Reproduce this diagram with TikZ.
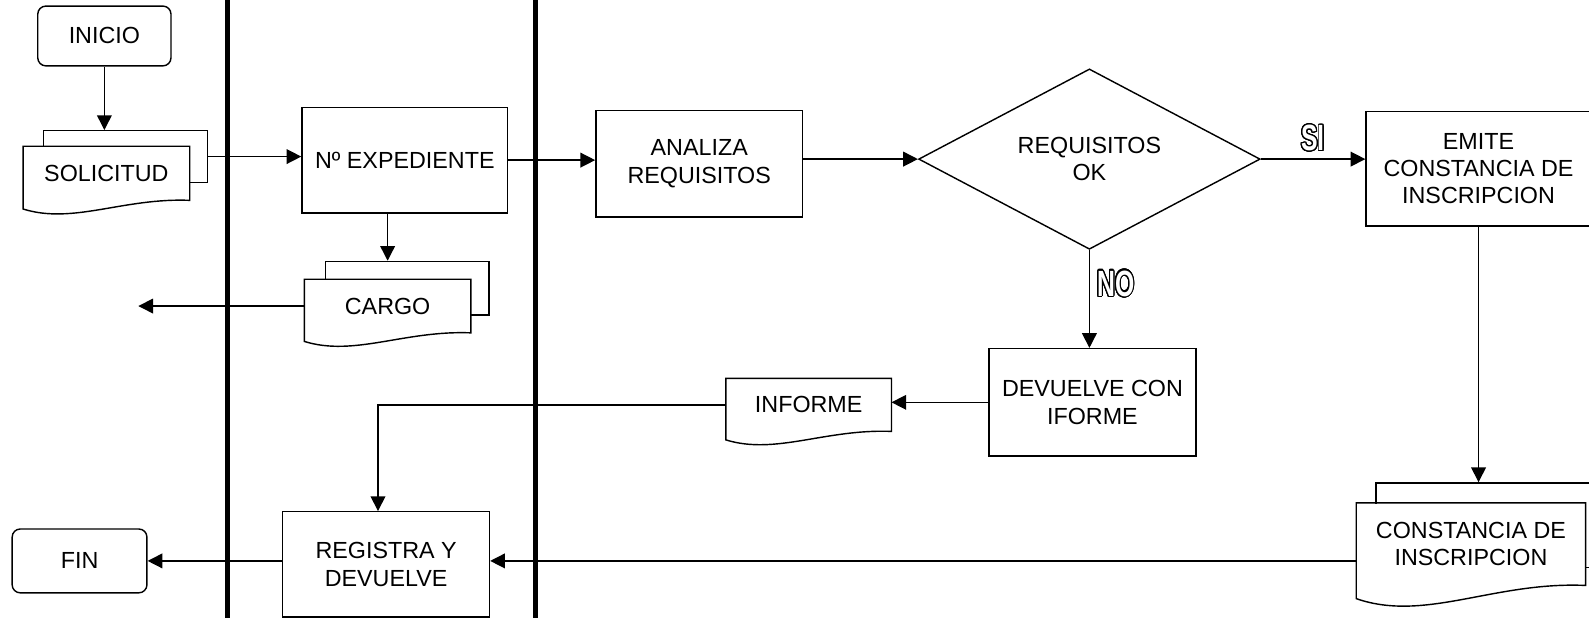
\documentclass[tikz,border=0pt]{standalone}
\usepackage{fontspec}
\setmainfont{Liberation Sans}
\usepackage{graphicx}
\usepackage[copies]{contour}
\usepackage{tikz}
\usetikzlibrary{arrows.meta,shapes.geometric,calc}
\contourlength{1.3pt}
\contournumber{32}
\tikzset{
  box/.style    = {draw, line width=1.4pt, align=center, inner sep=0pt,
                   font=\fontsize{23}{27}\selectfont},
  term/.style   = {box, rounded corners=8pt},
  sheet/.style  = {box, fill=white},
  doc/.style    = {box, draw=none, fill=white},
  test/.style   = {box, diamond, aspect=1.9},
  lane/.style   = {line width=4.8pt},
  line/.style   = {line width=1.4pt},
  flow/.style   = {line, -{Triangle[length=14.5pt, width=14.5pt]}},
  answer/.style = {font=\fontsize{36}{36}\selectfont\bfseries, inner sep=0pt},
}
% wavy document outline round a doc node
\newcommand\docedge[1]{%
  \draw[line] let \p1 = ($(#1.north east)-(#1.south west)$) in
    (#1.south east) .. controls ($(#1.south east)+(-0.4*\x1,0.05*\y1)$)
      and ($(#1.south west)+(0.3*\x1,-0.45*\y1)$) .. ($(#1.south west)+(0,-0.16*\y1)$)
    -- (#1.north west) -- (#1.north east) -- cycle;}
\newcommand\answer[1]{\scalebox{0.68}[1]{\textcolor{white}{\contour{black}{#1}}}}

\begin{document}
\begin{tikzpicture}[x=1pt, y=1pt]
  \useasboundingbox (0,0) rectangle (1568,-610);
  \clip (0,0) rectangle (1568,-610);
  % lanes
  \draw[lane] (224.5,0) -- (224.5,-610);
  \draw[lane] (528,0) -- (528,-610);
  % steps
  \node[term, minimum width=131.5pt, minimum height=59pt] (inicio) at (103,-35.5) {INICIO};
  \node[sheet, minimum width=162pt, minimum height=51pt] (solB) at (124,-154.5) {};
  \node[doc, minimum width=163pt, minimum height=52pt] (sol) at (105,-171) {SOLICITUD};
  \docedge{sol}
  \node[box, minimum width=203pt, minimum height=104pt] (exp) at (399.5,-158) {Nº EXPEDIENTE};
  \node[sheet, minimum width=161.5pt, minimum height=53pt] (cargoB) at (401.75,-284.5) {};
  \node[doc, minimum width=163pt, minimum height=51.5pt] (cargo) at (382.5,-302) {CARGO};
  \docedge{cargo}
  \coordinate (cargoOut) at (136.5,-302);
  \node[box, minimum width=204pt, minimum height=105pt] (ana) at (690,-161.5) {ANALIZA\\REQUISITOS};
  \node[test, minimum width=337pt, minimum height=178pt] (req) at (1075,-157) {REQUISITOS\\OK};
  \node[box, minimum width=222pt, minimum height=113pt] (emi) at (1459,-166.5) {EMITE\\CONSTANCIA DE\\INSCRIPCION};
  \node[box, minimum width=204pt, minimum height=106pt] (dev) at (1078,-397) {DEVUELVE CON\\IFORME};
  \node[doc, minimum width=162pt, minimum height=51pt] (inf) at (798,-399.5) {INFORME};
  \docedge{inf}
  \node[sheet, minimum width=225pt, minimum height=83.5pt] (consB) at (1470.5,-518.25) {};
  \node[doc, minimum width=225pt, minimum height=80pt] (cons) at (1451.5,-537) {CONSTANCIA DE\\INSCRIPCION};
  \docedge{cons}
  \node[box, minimum width=204pt, minimum height=104pt] (reg) at (381,-557) {REGISTRA Y\\DEVUELVE};
  \node[term, minimum width=133pt, minimum height=63pt] (fin) at (78.5,-553.5) {FIN};
  % connectors
  \draw[flow] (inicio) -- (inicio |- solB.north);
  \draw[flow] (solB.east) -- (solB.east -| exp.west);
  \draw[flow] (cargo |- exp.south) -- (cargo |- cargoB.north);
  \draw[flow] (cargo.west) -- (cargoOut);
  \draw[flow] (exp.east) -- (exp.east -| ana.west);
  \draw[flow] (ana.east |- req.west) -- (req.west);
  \draw[flow] (req.east) -- node[answer, above=6pt] {\answer{SI}} (req.east -| emi.west);
  \draw[flow] (req.south) -- node[answer, pos=0.35, right=7pt] {\answer{NO}} (req.south |- dev.north);
  \draw[flow] (dev.west) -- (dev.west -| inf.east);
  \draw[flow] (inf.west) -| ([xshift=-8pt]reg.north);
  \draw[flow] (emi.south) -- (emi.south |- consB.north);
  \draw[flow] (cons.west |- fin.east) -- (reg.east |- fin.east);
  \draw[flow] (reg.west |- fin.east) -- (fin.east);
\end{tikzpicture}
\end{document}
